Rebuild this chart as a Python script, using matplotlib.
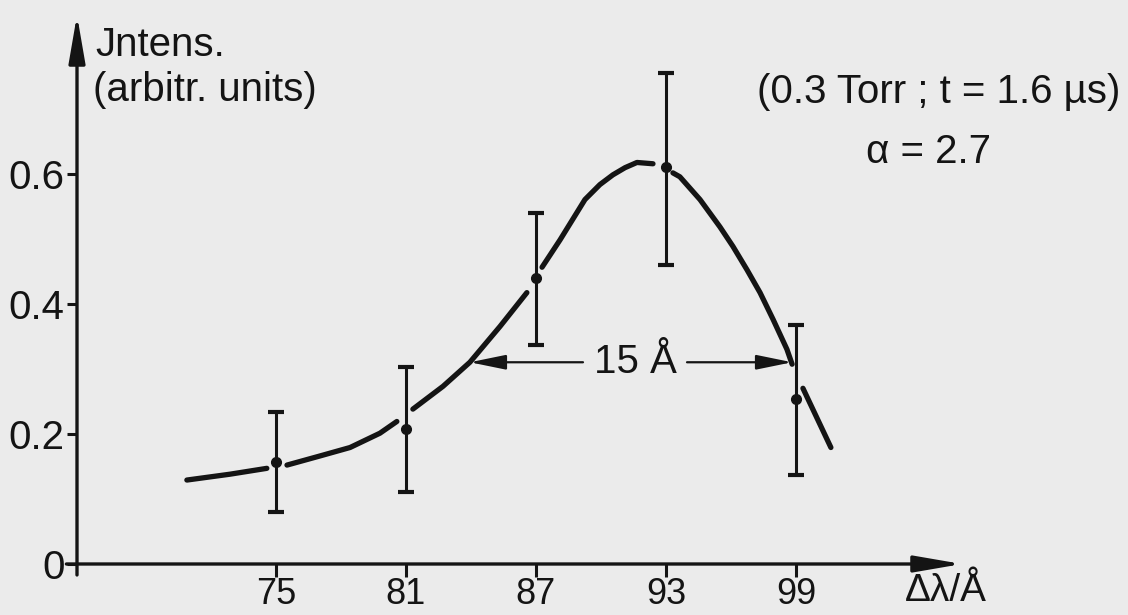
import numpy as np
import matplotlib
matplotlib.use("Agg")
import matplotlib.pyplot as plt
from matplotlib import font_manager as fm

# ---------------- data ----------------
x_points = [75, 81, 87, 93, 99]
y_points = [0.157, 0.207, 0.440, 0.610, 0.253]
err_low_end = [0.080, 0.110, 0.337, 0.459, 0.137]
err_high_end = [0.233, 0.302, 0.540, 0.755, 0.368]

# hand-drawn fit curve (NaN = pen lifted)
curve_x = [70.89, 72.88, 74.58, np.nan,
           75.51, 77.03, 78.42, 79.80, 80.58, np.nan,
           81.32, 82.71, 83.95, 85.34, 86.58, np.nan,
           87.28, 88.11, 89.26, 89.95, 90.55, 91.11, 91.66, 92.40, np.nan,
           93.32, 93.64, 94.57, 95.49, 96.09, 96.74, 97.34, 97.94, 98.58, 98.82, np.nan,
           99.32, 100.61]
curve_y = [0.129, 0.138, 0.147, np.nan,
           0.152, 0.166, 0.179, 0.201, 0.219, np.nan,
           0.238, 0.273, 0.310, 0.365, 0.417, np.nan,
           0.456, 0.498, 0.560, 0.583, 0.598, 0.609, 0.617, 0.615, np.nan,
           0.601, 0.595, 0.560, 0.518, 0.488, 0.452, 0.417, 0.376, 0.330, 0.307, np.nan,
           0.270, 0.179]

x_ticks = [75, 81, 87, 93, 99]
x_tick_labels = ["75", "81", "87", "93", "99"]
y_ticks = [0, 0.2, 0.4, 0.6]
y_tick_labels = ["0", "0.2", "0.4", "0.6"]

fwhm_left, fwhm_right, fwhm_level = 83.95, 98.82, 0.310
fwhm_label = "15 Å"

# ---------------- fonts ----------------
installed = {f.name for f in fm.fontManager.ttflist}
def pick(names):
    fams = [n for n in names if n in installed]
    return fams + ["DejaVu Sans"]
word_font = pick(["Liberation Sans"])
num_font = pick(["Liberation Sans Narrow", "Liberation Sans"])

INK = "#141414"
BG = "#ebebeb"

W, H = 1128, 615
fig = plt.figure(figsize=(W / 100, H / 100), dpi=100, facecolor=BG)
# axes box in pixels: x 77..962, y 15..564
x_left_px, x_right_px, y_top_px, y_bot_px = 77, 962, 15, 564
ax = fig.add_axes([x_left_px / W, (H - y_bot_px) / H,
                   (x_right_px - x_left_px) / W, (y_bot_px - y_top_px) / H])
ax.set_facecolor(BG)
ax.set_xlim(65.82, 106.66)
ax.set_ylim(0, 0.8436)
for s in ax.spines.values():
    s.set_visible(False)

# axis arrows
arrow_kw = dict(arrowstyle="-|>,head_length=2.9,head_width=0.5",
                mutation_scale=10, lw=2.4, color=INK, shrinkA=0, shrinkB=0)
ax.annotate("", xy=(1, 0), xytext=(-0.012, 0), xycoords="axes fraction",
            arrowprops=arrow_kw, annotation_clip=False)
ax.annotate("", xy=(0, 1), xytext=(0, -0.02), xycoords="axes fraction",
            arrowprops=arrow_kw, annotation_clip=False)

ax.set_xticks(x_ticks)
ax.set_xticklabels(x_tick_labels, family=num_font, fontsize=26, color=INK)
ax.set_yticks(y_ticks)
ax.set_yticklabels(y_tick_labels, family=num_font, fontsize=29, color=INK)
ax.tick_params(axis="x", direction="out", length=9, width=2.2, pad=0, colors=INK)
ax.tick_params(axis="y", direction="out", length=7, width=2.2, pad=2, colors=INK)

# curve
ax.plot(curve_x, curve_y, color=INK, lw=3.8, solid_capstyle="round", zorder=3)

# data points with error bars
yp = np.array(y_points)
yerr = [yp - np.array(err_low_end), np.array(err_high_end) - yp]
ax.errorbar(x_points, y_points, yerr=yerr, fmt="o", color=INK, ms=7,
            elinewidth=2.2, capsize=6, capthick=3, zorder=4)

# FWHM arrows
fw_kw = dict(arrowstyle="-|>,head_length=2.2,head_width=0.45",
             mutation_scale=10, lw=1.6, color=INK, shrinkA=0, shrinkB=0)
ax.annotate("", xy=(fwhm_left, fwhm_level), xytext=(89.17, fwhm_level), arrowprops=fw_kw)
ax.annotate("", xy=(fwhm_right, fwhm_level), xytext=(93.97, fwhm_level), arrowprops=fw_kw)
ax.text(91.6, fwhm_level, fwhm_label, ha="center", va="center",
        family=word_font, fontsize=29, color=INK)

# texts
fig.text(95 / W, 1 - 45 / H, "Jntens.", ha="left", va="center",
         family=word_font, fontsize=29, color=INK)
fig.text(93 / W, 1 - 90 / H, "(arbitr. units)", ha="left", va="center",
         family=word_font, fontsize=29, color=INK)
fig.text(1120 / W, 1 - 92 / H, "(0.3 Torr ; t = 1.6 µs)", ha="right", va="center",
         family=word_font, fontsize=29, color=INK)
fig.text(928 / W, 1 - 152 / H, "α = 2.7", ha="center", va="center",
         family=word_font, fontsize=29, color=INK)
fig.text(946 / W, 1 - 601 / H, "Δλ/Å", ha="center", va="baseline",
         family=word_font, fontsize=28, color=INK)

fig.savefig("out.png", dpi=100, facecolor=BG)
